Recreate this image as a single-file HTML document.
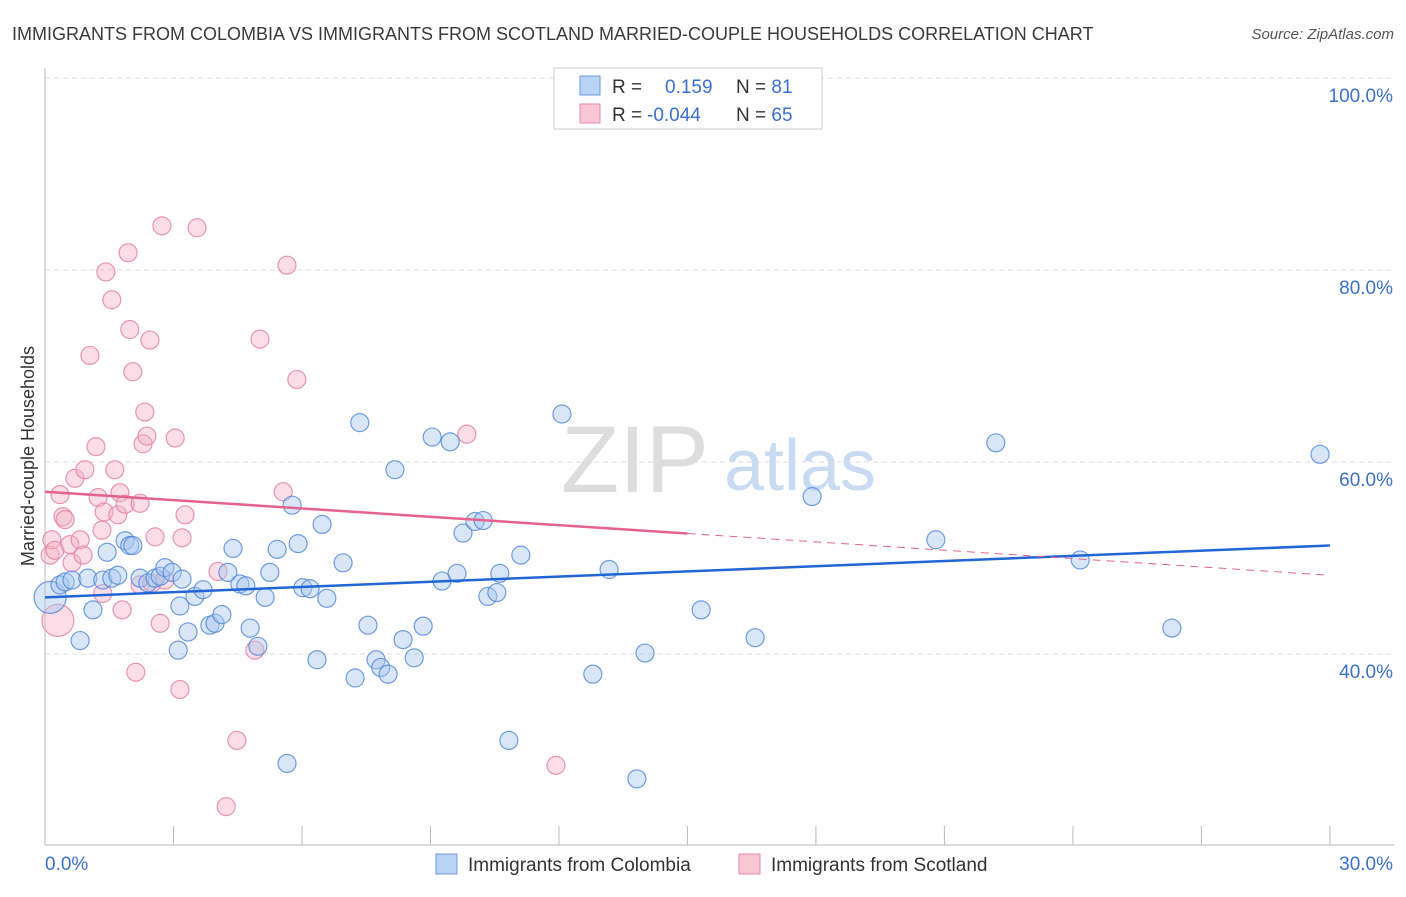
<!DOCTYPE html>
<html><head><meta charset="utf-8"><style>
body{margin:0;background:#fff;font-family:"Liberation Sans",sans-serif}
svg text{font-family:"Liberation Sans",sans-serif}
</style></head><body>
<svg id="c" width="1406" height="892">
<text x="12" y="40" font-size="18" fill="#3a3a3a">IMMIGRANTS FROM COLOMBIA VS IMMIGRANTS FROM SCOTLAND MARRIED-COUPLE HOUSEHOLDS CORRELATION CHART</text>
<text x="1394" y="39" font-size="15" fill="#555" text-anchor="end" font-style="italic">Source: ZipAtlas.com</text>
<text x="34" y="456" font-size="18" fill="#333" text-anchor="middle" transform="rotate(-90 34 456)">Married-couple Households</text>
<g><text x="635" y="492" font-size="95" fill="#ddd" font-family="Liberation Serif" text-anchor="middle">ZIP</text><text x="800" y="490" font-size="72" fill="#c9dbf3" text-anchor="middle">atlas</text></g>
<g id="grid"></g><g id="marks"></g>
<g>
<rect x="554" y="68" width="268" height="61" fill="#fff" stroke="#ccc"/>
<rect x="580" y="76" width="20" height="19" fill="#b9d3f5" stroke="#6c9be0"/>
<rect x="580" y="104" width="20" height="19" fill="#f9c6d6" stroke="#e98aab"/>
<text x="612" y="93" font-size="19" fill="#333">R = <tspan fill="#3b6fd1" x="665">0.159</tspan><tspan x="736">N = </tspan><tspan fill="#3b6fd1">81</tspan></text>
<text x="612" y="121" font-size="19" fill="#333">R = <tspan fill="#3b6fd1" x="647">-0.044</tspan><tspan x="736">N = </tspan><tspan fill="#3b6fd1">65</tspan></text>
</g>
<g>
<rect x="436" y="854" width="21" height="20" fill="#b9d3f5" stroke="#6c9be0"/>
<text x="468" y="871" font-size="19" fill="#333">Immigrants from Colombia</text>
<rect x="739" y="854" width="21" height="20" fill="#f9c6d6" stroke="#e98aab"/>
<text x="771" y="871" font-size="19" fill="#333">Immigrants from Scotland</text>
</g>
</svg>
<script>
const yTicks=[40,60,80,100];
const yTickLabels=["40.0%","60.0%","80.0%","100.0%"];
const xTicks=[0,3,6,9,12,15,18,21,24,27,30];
const colombiaX=[0.12,0.35,0.47,0.63,1.0,0.82,1.12,1.35,1.45,1.56,1.70,1.87,1.98,2.05,2.22,2.40,2.57,2.69,2.80,2.97,3.15,3.20,3.34,3.11,3.50,3.69,3.85,3.97,4.13,4.27,4.39,4.55,4.69,4.79,4.97,5.14,5.25,5.42,5.65,5.77,5.91,6.02,6.19,6.35,6.47,6.58,6.96,7.24,7.35,7.54,7.73,7.84,8.01,8.17,8.36,8.62,8.83,9.04,9.27,9.46,9.62,9.76,10.04,10.23,10.34,10.55,10.62,10.83,11.11,12.07,12.79,13.17,13.82,14.01,15.32,16.58,17.91,20.80,22.20,24.17,26.31,29.77];
const colombiaY=[45.9,47.2,47.5,47.7,47.9,41.4,44.6,47.7,50.6,47.9,48.2,51.8,51.3,51.3,47.9,47.4,47.9,48.1,49.0,48.5,45.0,47.8,42.3,40.4,46.0,46.7,43.0,43.2,44.1,48.5,51.0,47.3,47.1,42.7,40.8,45.9,48.5,50.9,28.6,55.5,51.5,46.9,46.8,39.4,53.5,45.8,49.5,37.5,64.1,43.0,39.4,38.6,37.9,59.2,41.5,39.6,42.9,62.6,47.6,62.1,48.4,52.6,53.8,53.9,46.0,46.4,48.4,31.0,50.3,65.0,37.9,48.8,27.0,40.1,44.6,41.7,56.4,51.9,62.0,49.8,42.7,60.8];
const scotlandX=[0.30,0.12,0.16,0.23,0.35,0.42,0.47,0.58,0.63,0.70,0.82,0.89,0.93,1.05,1.19,1.24,1.33,1.38,1.35,1.42,1.56,1.63,1.70,1.75,1.80,1.87,1.94,1.98,2.05,2.12,2.22,2.29,2.33,2.38,2.45,2.50,2.57,2.69,2.73,2.80,3.04,3.15,3.20,3.27,3.55,4.04,4.23,4.48,4.90,5.02,5.56,5.65,5.88,9.85,11.93,2.22];
const scotlandY=[43.5,50.3,51.9,50.8,56.6,54.3,54.0,51.4,49.5,58.3,51.9,50.3,59.2,71.1,61.6,56.3,52.9,54.8,46.3,79.8,76.9,59.2,54.5,56.8,44.6,55.6,81.8,73.8,69.4,38.1,47.2,61.9,65.2,62.7,72.7,47.4,52.2,43.2,84.6,47.7,62.5,36.3,52.1,54.5,84.4,48.6,24.1,31.0,40.4,72.8,56.9,80.5,68.6,62.9,28.4,55.7];
const colombiaTrend=[45.9,51.3];
const scotlandTrend=[56.9,48.2];
const scotlandSolidEnd=15;
const NS='http://www.w3.org/2000/svg';
const X=v=>45+v*42.83, Y=v=>654-(v-40)*9.6;
function mk(t,a,p){const e=document.createElementNS(NS,t);for(const k in a)e.setAttribute(k,a[k]);p.appendChild(e);return e;}
const g=document.getElementById('grid'), m=document.getElementById('marks');
yTicks.forEach((t,i)=>{
 const l=mk('line',{x1:45,x2:1394,y1:Y(t),y2:Y(t),stroke:'#ddd','stroke-dasharray':'5,4'},g);
 
 
 const tx=mk('text',{x:1393,y:Y(t)+24,'font-size':19,fill:'#3b6fd1','text-anchor':'end'},g);
 tx.textContent=yTickLabels[i];
 
 
});
const ax=mk('line',{x1:45,x2:1394,y1:845,y2:845,stroke:'#bbb'},g);


const ay=mk('line',{x1:45,x2:45,y1:68,y2:845,stroke:'#bbb'},g);


xTicks.forEach(t=>{const l=mk('line',{x1:X(t),x2:X(t),y1:826,y2:845,stroke:'#bbb'},g);
 
 });
[['0.0%',45,'start'],['30.0%',1393,'end']].forEach(d=>{const t=mk('text',{x:d[1],y:870,'font-size':19,fill:'#3b6fd1','text-anchor':d[2]},g);t.textContent=d[0];
 
 });
function pts(xs,ys,fill,stroke,name){xs.forEach((x,i)=>{const r=(i===0)?16:9;
 const c=mk('circle',{cx:X(x),cy:Y(ys[i]),r:r,fill:fill,'fill-opacity':0.45,stroke:stroke,'stroke-opacity':0.8,'stroke-width':1.2},m);
 
 });}
pts(scotlandX,scotlandY,'#f5b3c8','#e67d9f','scotland-point');
pts(colombiaX,colombiaY,'#a9c8f0','#4f86d9','colombia-point');
const bl=mk('line',{x1:X(0),y1:Y(colombiaTrend[0]),x2:X(30),y2:Y(colombiaTrend[1]),stroke:'#2166d4','stroke-width':2.5},m);


const py=x=>scotlandTrend[0]+(scotlandTrend[1]-scotlandTrend[0])*x/30;
const pl=mk('line',{x1:X(0),y1:Y(py(0)),x2:X(scotlandSolidEnd),y2:Y(py(scotlandSolidEnd)),stroke:'#e5628e','stroke-width':2.5},m);


const pd=mk('line',{x1:X(scotlandSolidEnd),y1:Y(py(scotlandSolidEnd)),x2:X(30),y2:Y(py(30)),stroke:'#e5628e','stroke-width':1,'stroke-dasharray':'8,6'},m);


</script>
</body></html>
